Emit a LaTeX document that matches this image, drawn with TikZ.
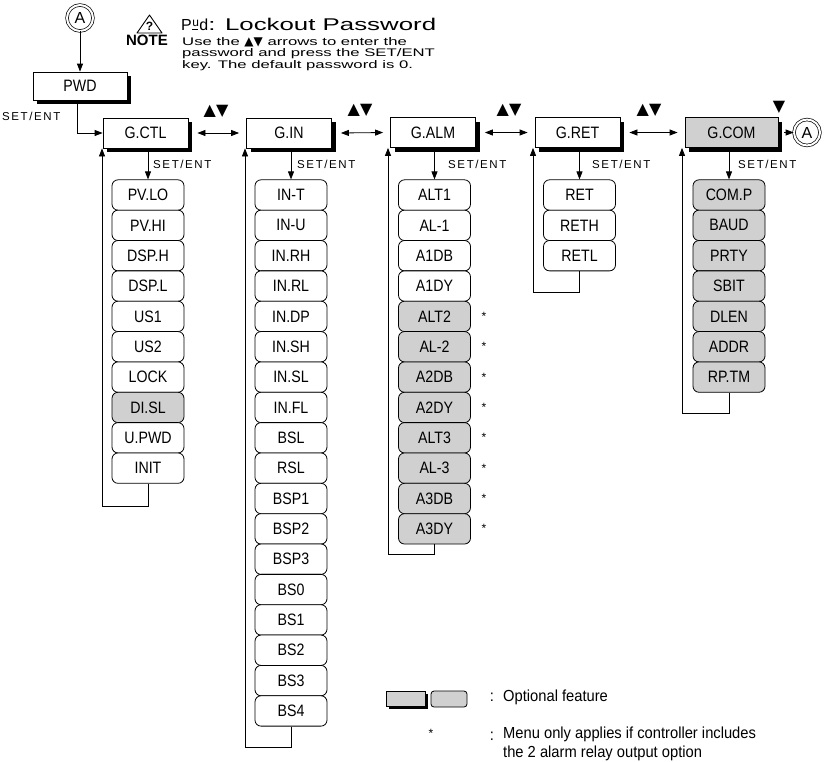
\documentclass[tikz,border=0pt]{standalone}
\usepackage{fontspec}
\setmainfont{Liberation Sans}
\newfontfamily\symfont{DejaVu Sans}
\newfontfamily\spacedfont[LetterSpace=14]{Liberation Sans}
\newfontfamily\stretchC[FakeStretch=1.52]{Liberation Sans}
\newfontfamily\narrowfont[FakeStretch=0.86]{Liberation Sans}
\newfontfamily\legfont[FakeStretch=0.92]{Liberation Sans}
\usetikzlibrary{arrows.meta,shadows}
\definecolor{optgray}{RGB}{208,208,208}
\newcommand{\pwdseg}{{\fontsize{16}{16}\selectfont P\makebox[7.5pt][c]{\raisebox{4pt}{\fontsize{12}{12}\selectfont u}\llap{\rule[0pt]{6pt}{1.2pt}\hspace{0.8pt}}}d}}
\begin{document}
\begin{tikzpicture}[x=1pt,y=-1pt,
  lbl/.style={font=\narrowfont\fontsize{16.5}{16.5}\selectfont},
  grp/.style={draw, line width=0.8pt, fill=white, minimum width=85pt, minimum height=30pt, inner sep=0pt, lbl,
    drop shadow={shadow xshift=4pt, shadow yshift=-4pt, opacity=1, fill=black}},
  item/.style={draw, line width=0.8pt, rounded corners=6pt, minimum width=72pt, minimum height=30.35pt, inner sep=0pt, lbl},
  conn/.style={line width=0.8pt, -{Triangle[length=8pt,width=6pt]}},
  dbl/.style={line width=0.8pt, {Triangle[length=8pt,width=6pt]}-{Triangle[length=8pt,width=6pt]}},
  dcirc/.style={circle, draw, line width=0.7pt, double, double distance=2pt, minimum size=26pt, inner sep=0pt, font=\fontsize{16}{16}\selectfont},
  setent/.style={font=\spacedfont\fontsize{11.5}{11.5}\selectfont, anchor=west, inner sep=0pt},
  updn/.style={font=\symfont\fontsize{16}{16}\selectfont, inner sep=0pt},
  star/.style={font=\fontsize{12}{12}\selectfont, inner sep=0pt},
  legtxt/.style={inner sep=0pt, font=\legfont\fontsize{16}{19}\selectfont},
]
\useasboundingbox (0,0) rectangle (830,761);

% note header
\node[dcirc] (atop) at (80,18) {A};
\draw[line width=0.9pt, line join=round] (137,33) -- (149.5,15) -- (162,33) -- cycle;
\node[inner sep=0pt, font=\bfseries\fontsize{12}{12}\selectfont] (qm) at (149.5,26) {?};
\node[inner sep=0pt, font=\bfseries\fontsize{15}{15}\selectfont] (note) at (147,40) {NOTE};
\node[anchor=base west, inner sep=0pt] (title) at (181,30) {\pwdseg{\stretchC\fontsize{17}{17}\selectfont: Lockout Password}};
\node[anchor=north west, inner sep=0pt, align=left, font=\stretchC\fontsize{11}{11.5}\selectfont] (body) at (182,37)
  {Use the {\symfont\fontsize{12}{12}\selectfont ▲▼} arrows to enter the\\password and press the SET/ENT\\key. The default password is 0.};

% groups
\node[grp, minimum width=94pt, minimum height=28pt] (pwd) at (80,86) {PWD};
\node[grp] (gctl) at (145.5,133) {G.CTL};
\node[grp] (gin) at (289,133) {G.IN};
\node[grp] (galm) at (433,132.5) {G.ALM};
\node[grp] (gret) at (577.5,132.5) {G.RET};
\node[grp, fill=optgray, minimum width=93pt] (gcom) at (731.5,132.5) {G.COM};
\node[dcirc] (aright) at (807,132.5) {A};

\draw[conn] (atop) -- (pwd);
\coordinate (pbend) at (77,133);
\draw[conn] (pwd.south -| pbend) -- (pbend) -- (gctl.west);
\node[setent] (se0) at (2,116) {SET/ENT};

\draw[dbl] ([xshift=9pt]gctl.east) -- ([xshift=-7pt]gin.west);
\draw[dbl] ([xshift=9pt]gin.east) -- ([xshift=-7pt]galm.west);
\draw[dbl] ([xshift=9pt]galm.east) -- ([xshift=-7pt]gret.west);
\draw[dbl] ([xshift=9pt]gret.east) -- ([xshift=-7pt]gcom.west);
\draw[conn] ([xshift=6pt]gcom.east) -- (aright);
\node[updn] (ud1) at (216,111) {▲▼};
\node[updn] (ud2) at (360,110) {▲▼};
\node[updn] (ud3) at (509,110) {▲▼};
\node[updn] (ud4) at (649,110) {▲▼};
\node[updn] (ud5) at (779,107) {▼};

% G.CTL column
\foreach \t/\c [count=\i] in {PV.LO/white, PV.HI/white, DSP.H/white, DSP.L/white, US1/white, US2/white, LOCK/white, DI.SL/optgray, U.PWD/white, INIT/white}
  \node[item, fill=\c] (ctl\i) at (148,{195+(\i-1)*30.35}) {\t};
\draw[conn] (gctl.south -| ctl1.north) -- (ctl1.north);
\node[setent] (se1) at (153,164) {SET/ENT};
\coordinate (lctl) at (102,506);
\draw[conn] (ctl10.south) |- (lctl) -- (lctl |- gctl.south);

% G.IN column
\foreach \t [count=\i] in {IN-T, IN-U, IN.RH, IN.RL, IN.DP, IN.SH, IN.SL, IN.FL, BSL, RSL, BSP1, BSP2, BSP3, BS0, BS1, BS2, BS3, BS4}
  \node[item, fill=white] (in\i) at (291,{195+(\i-1)*30.35}) {\t};
\draw[conn] (gin.south -| in1.north) -- (in1.north);
\node[setent] (se2) at (297,164) {SET/ENT};
\coordinate (lin) at (245,747);
\draw[conn] (in18.south) |- (lin) -- (lin |- gin.south);

% G.ALM column
\foreach \t/\c [count=\i] in {ALT1/white, AL-1/white, A1DB/white, A1DY/white, ALT2/optgray, AL-2/optgray, A2DB/optgray, A2DY/optgray, ALT3/optgray, AL-3/optgray, A3DB/optgray, A3DY/optgray}
  \node[item, fill=\c] (alm\i) at (434.5,{195+(\i-1)*30.35}) {\t};
\foreach \i in {5,...,12}
  \node[star] (st\i) at ([xshift=13pt]alm\i.east) {*};
\draw[conn] (galm.south -| alm1.north) -- (alm1.north);
\node[setent] (se3) at (448,164) {SET/ENT};
\coordinate (lalm) at (388,554);
\draw[conn] (alm12.south) |- (lalm) -- (lalm |- galm.south);

% G.RET column
\foreach \t [count=\i] in {RET, RETH, RETL}
  \node[item, fill=white] (ret\i) at (579.5,{195+(\i-1)*30.35}) {\t};
\draw[conn] (gret.south -| ret1.north) -- (ret1.north);
\node[setent] (se4) at (592,164) {SET/ENT};
\coordinate (lret) at (533,292);
\draw[conn] (ret3.south) |- (lret) -- (lret |- gret.south);

% G.COM column
\foreach \t [count=\i] in {COM.P, BAUD, PRTY, SBIT, DLEN, ADDR, RP.TM}
  \node[item, fill=optgray] (com\i) at (729,{195+(\i-1)*30.35}) {\t};
\draw[conn] (gcom.south -| com1.north) -- (com1.north);
\node[setent] (se5) at (738,164) {SET/ENT};
\coordinate (lcom) at (682,413);
\draw[conn] (com7.south) |- (lcom) -- (lcom |- gcom.south);

% legend
\node[draw, line width=0.8pt, fill=optgray, minimum width=39pt, minimum height=15pt, inner sep=0pt,
  drop shadow={shadow xshift=2.5pt, shadow yshift=-2.5pt, opacity=1, fill=black}] (lg1) at (405.5,698.5) {};
\node[draw, line width=0.8pt, fill=optgray, rounded corners=3pt, minimum width=36pt, minimum height=16pt, inner sep=0pt] (lg2) at (449,699) {};
\node[legtxt] (c1) at (492,697) {:};
\node[legtxt, anchor=west] (opt) at (503,697) {Optional feature};
\node[star] (lstar) at (431,733) {*};
\node[legtxt] (c2) at (492,736) {:};
\node[legtxt, anchor=north west, align=left] (menu) at (503,727)
  {Menu only applies if controller includes\\the 2 alarm relay output option};
\end{tikzpicture}
\end{document}
